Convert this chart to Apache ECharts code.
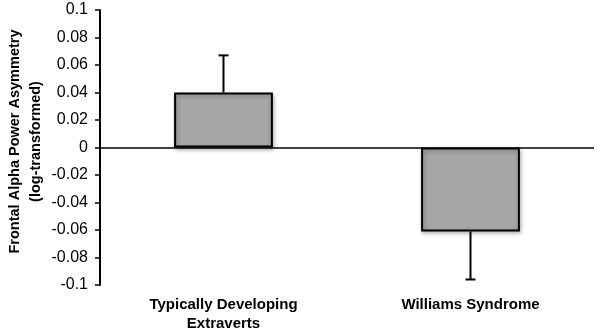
<!DOCTYPE html>
<html>
<head>
<meta charset="utf-8">
<script src="https://cdn.jsdelivr.net/npm/echarts@6/dist/echarts.min.js"></script>
<style>
  html, body { margin: 0; padding: 0; background: #fff; }
  #chart { width: 600px; height: 333px; }
</style>
</head>
<body>
<div id="chart"></div>
<script>
  // groups and values
  const categories = ["Typically Developing\nExtraverts", "Williams Syndrome"];
  const means = [0.04, -0.061];
  const errorEnds = [0.067, -0.096];
  const yTicks = { min: -0.1, max: 0.1, step: 0.02 };

  const chart = echarts.init(document.getElementById("chart"));

  const option = {
    animation: false,
    grid: { left: 100, right: 6, top: 10, bottom: 48, outerBoundsMode: "none", containLabel: false },
    xAxis: {
      type: "category",
      data: categories,
      axisLine: { show: false },
      axisTick: { show: false },
      axisLabel: {
        color: "#000",
        fontFamily: "Liberation Sans",
        fontWeight: "bold",
        fontSize: 15,
        lineHeight: 19,
        margin: 10,
      },
    },
    yAxis: {
      type: "value",
      min: yTicks.min,
      max: yTicks.max,
      interval: yTicks.step,
      name: "Frontal Alpha Power Asymmetry\n(log-transformed)",
      nameLocation: "middle",
      nameGap: 54,
      nameMoveOverlap: false,
      nameTextStyle: {
        color: "#000",
        fontFamily: "Liberation Sans",
        fontWeight: "bold",
        fontSize: 14.5,
        lineHeight: 21,
        padding: [0, 0, 0, 12],
      },
      axisLine: { show: true, lineStyle: { color: "#000", width: 2 } },
      axisTick: { show: true, inside: false, length: 5, lineStyle: { color: "#000", width: 1.5 } },
      splitLine: { show: false },
      axisLabel: {
        color: "#000",
        fontFamily: "Liberation Sans",
        fontSize: 16,
        margin: 12,
        formatter: (v) => String(Math.round(v * 100) / 100),
      },
    },
    series: [
      {
        type: "bar",
        data: means,
        barWidth: "40%",
        itemStyle: {
          color: "#a6a6a6",
          borderColor: "#000",
          borderWidth: 2,
          shadowColor: "rgba(0,0,0,0.3)",
          shadowBlur: 4,
          shadowOffsetX: 1,
          shadowOffsetY: 2,
        },
        markLine: {
          symbol: "none",
          silent: true,
          label: { show: false },
          lineStyle: { color: "#000", width: 1.5, type: "solid" },
          data: [{ yAxis: 0 }],
        },
        z: 2,
      },
      {
        type: "custom",
        data: means.map((m, i) => [i, m, errorEnds[i]]),
        renderItem: function (params, api) {
          const base = api.coord([api.value(0), api.value(1)]);
          const end = api.coord([api.value(0), api.value(2)]);
          const half = 5;
          return {
            type: "group",
            children: [
              {
                type: "line",
                shape: { x1: base[0], y1: base[1], x2: end[0], y2: end[1] },
                style: { stroke: "#000", lineWidth: 2 },
              },
              {
                type: "line",
                shape: { x1: end[0] - half, y1: end[1], x2: end[0] + half, y2: end[1] },
                style: { stroke: "#000", lineWidth: 2 },
              },
            ],
          };
        },
        z: 1,
      },
    ],
  };

  chart.setOption(option);
</script>
</body>
</html>
